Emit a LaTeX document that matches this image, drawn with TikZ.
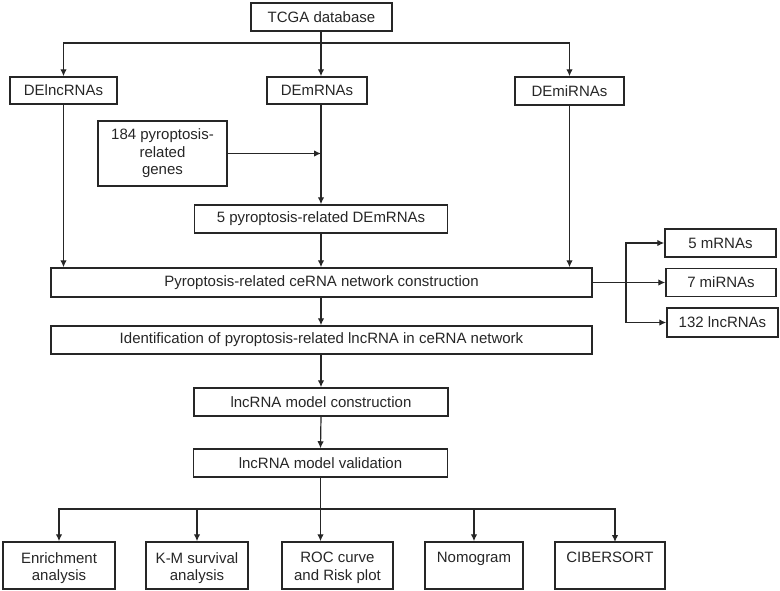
\documentclass[tikz,border=0pt]{standalone}
\usepackage{fontspec}
\setmainfont{Liberation Sans}
\usetikzlibrary{arrows.meta}
\definecolor{ink}{HTML}{262626}
\tikzset{
  box/.style={draw=ink, line width=1.5pt, text=ink, inner sep=0pt, align=center,
              font=\fontsize{15}{17.5}\selectfont},
  lbl/.style={text=ink, inner sep=0pt, align=center, font=\fontsize{15}{17.5}\selectfont},
  arr/.style={draw=ink, line width=1.2pt, -{Latex[length=7pt,width=6.5pt]}},
  ln/.style={draw=ink, line width=1.2pt}
}
\begin{document}
\begin{tikzpicture}[x=1pt,y=-1pt]
\useasboundingbox (0,0) rectangle (780,590);
% top
\node[box, minimum width=141pt, minimum height=28pt] (tcga) at (321.5,17) {TCGA database};
\node[box, minimum width=107pt, minimum height=27pt] (delnc) at (63.5,90.5) {DElncRNAs};
\node[box, minimum width=100pt, minimum height=27pt] (demrna) at (317,90.5) {DEmRNAs};
\node[box, minimum width=109pt, minimum height=28pt] (demi) at (569.5,91) {DEmiRNAs};
\node[box, minimum width=129pt, minimum height=65pt] (p184) at (162.5,153.5) {184 pyroptosis-\\related\\genes};
\node[box, minimum width=253pt, minimum height=28pt] (p5) at (321,219) {5 pyroptosis-related DEmRNAs};
\node[box, minimum width=541pt, minimum height=29pt] (cerna) at (321.5,282.5) {Pyroptosis-related ceRNA network construction};
\node[box, minimum width=541pt, minimum height=28pt] (ident) at (321.5,340) {Identification of pyroptosis-related lncRNA in ceRNA network};
\node[box, minimum width=254pt, minimum height=28pt] (model) at (321,402) {lncRNA model construction};
\node[box, minimum width=254pt, minimum height=28pt] (valid) at (320.5,463) {lncRNA model validation};
% right
\node[box, minimum width=111pt, minimum height=28pt] (m5) at (720.5,243) {5 mRNAs};
\node[box, minimum width=110pt, minimum height=28pt] (mi7) at (721,282.5) {7 miRNAs};
\node[box, minimum width=111pt, minimum height=29pt] (l132) at (722.5,322.5) {132 lncRNAs};
% bottom
\node[box, minimum width=112pt, minimum height=47pt] (enr) at (59,565.5) {};
\node[box, minimum width=102pt, minimum height=47pt] (km) at (197,565.5) {};
\node[box, minimum width=111pt, minimum height=47pt] (roc) at (337.5,565.5) {};
\node[box, minimum width=98pt, minimum height=47pt] (nomo) at (474,565.5) {};
\node[box, minimum width=110pt, minimum height=47pt] (cib) at (610,565.5) {};
\node[lbl, anchor=north] (enrt) at (59,552) {Enrichment\\analysis};
\node[lbl, anchor=north] (kmt) at (197,552) {K-M survival\\analysis};
\node[lbl, anchor=north] (roct) at (337.5,552) {ROC curve\\and Risk plot};
\node[lbl, anchor=north] (nomot) at (474,552) {Nomogram};
\node[lbl, anchor=north] (cibt) at (610,552) {CIBERSORT};
% coordinates
\coordinate (split) at (321,43);
\coordinate (bsplit) at (320.5,509);
\coordinate (rsplit) at (626,282.5);
\coordinate (cibin) at (615,542);
% connectors
\draw[arr] (tcga.south -| split) -- (demrna.north -| split);
\draw[arr] (split) -| (delnc.north);
\draw[arr] (split) -| (demi.north);
\draw[arr] (p184.east) -- (p184.east -| split);
\draw[arr] (demrna.south -| split) -- (p5.north -| split);
\draw[arr] (delnc.south) -- (delnc.south |- cerna.north);
\draw[arr] (p5.south -| split) -- (cerna.north -| split);
\draw[arr] (demi.south) -- (demi.south |- cerna.north);
\draw[arr] (cerna.south -| split) -- (ident.north -| split);
\draw[arr] (ident.south -| model.north) -- (model.north);
\draw[arr] (model.south) -- (valid.north);
\draw[arr] (cerna.east) -- (mi7.west);
\draw[arr] (rsplit) |- (m5.west);
\draw[arr] (rsplit) |- (l132.west);
\draw[arr] (valid.south) -- (valid.south |- roc.north);
\draw[arr] (bsplit) -| (enr.north);
\draw[arr] (bsplit) -| (km.north);
\draw[arr] (bsplit) -| (nomo.north);
\draw[arr] (bsplit) -| (cibin);
\end{tikzpicture}
\end{document}
